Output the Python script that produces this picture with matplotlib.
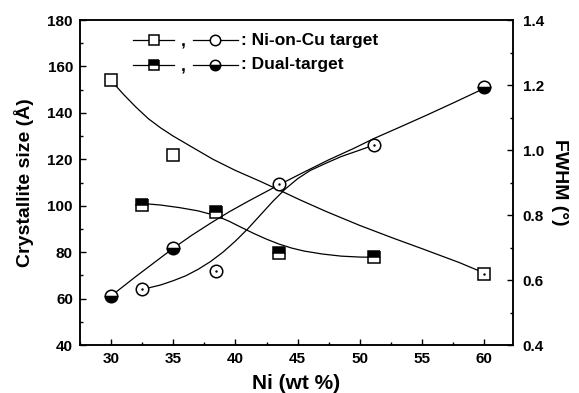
import numpy as np
import matplotlib
matplotlib.use("Agg")
import matplotlib.pyplot as plt
from matplotlib.ticker import MultipleLocator

plt.rcParams['font.family'] = ['Liberation Sans', 'DejaVu Sans']
plt.rcParams['font.weight'] = 'bold'

# measured points
sq_open_x = [30, 35, 60]
sq_open_y = [154, 122, 70.6]
sq_dual_x = [32.5, 38.4, 43.5, 51.1]
sq_dual_y = [100.5, 97.5, 79.5, 77.8]
ci_open_x = [32.5, 38.4, 43.5, 51.1]
ci_open_y = [0.571, 0.629, 0.895, 1.015]
ci_dual_x = [30, 35, 60]
ci_dual_y = [0.551, 0.698, 1.195]

# fitted curves
fitA_x = [30, 31, 32, 33, 34, 35, 36.5, 38.2, 40, 42, 43.5, 45.2, 47.3, 50, 52.7, 55, 58, 60]
fitA_y = [154, 148, 142.5, 137.5, 133.5, 130, 125.3, 120, 115.2, 110.5, 106.8, 102.5,
          97.5, 91.5, 86, 81.5, 75.5, 71]
fitB_x = [32.5, 34, 35, 36, 37, 38, 39, 40, 41, 42, 43, 44, 45, 46, 47.3, 48.5, 50, 51.1]
fitB_y = [0.571, 0.585, 0.598, 0.613, 0.633, 0.657, 0.686, 0.72, 0.758, 0.80, 0.842,
          0.88, 0.912, 0.937, 0.96, 0.98, 1.0, 1.015]
fitC_x = [30, 31, 32, 33, 34, 35, 36.5, 38, 39.5, 41, 43.5, 45.5, 47.5, 49.5, 51.1, 53,
          55.4, 57.5, 60]
fitC_y = [0.551, 0.581, 0.611, 0.64, 0.669, 0.698, 0.738, 0.775, 0.81, 0.842, 0.893,
          0.932, 0.97, 1.005, 1.035, 1.067, 1.108, 1.145, 1.19]
fitD_x = [32.5, 34, 35.5, 37, 38.4, 39.5, 40.5, 41.5, 42.5, 43.5, 44.5, 45.5, 47, 48.5,
          50, 51.1]
fitD_y = [101, 100.3, 99.2, 97.8, 95.8, 93.3, 90.6, 88, 85.6, 83.5, 81.8, 80.5, 79.2,
          78.3, 77.9, 77.8]

fig = plt.figure(figsize=(5.79, 3.93), dpi=100)
ax = fig.add_axes([0.138, 0.122, 0.748, 0.827])
ax2 = ax.twinx()

lw = 0.9
ax.plot(fitA_x, fitA_y, color='black', lw=lw)
ax.plot(fitD_x, fitD_y, color='black', lw=lw)
ax2.plot(fitB_x, fitB_y, color='black', lw=lw)
ax2.plot(fitC_x, fitC_y, color='black', lw=lw)

ms = 8
mew = 1.1
ax.plot(sq_open_x, sq_open_y, 's', ms=ms, mfc='white', mec='black', mew=mew, zorder=5)
ax.plot(sq_dual_x, sq_dual_y, 's', ms=ms, mfc='black', mfcalt='white', fillstyle='top',
        mec='black', mew=mew, zorder=5)
ax2.plot(ci_open_x, ci_open_y, 'o', ms=ms + 1, mfc='white', mec='black', mew=mew, zorder=5)
ax2.plot(ci_dual_x, ci_dual_y, 'o', ms=ms + 1, mfc='black', mfcalt='white', fillstyle='bottom',
         mec='black', mew=mew, zorder=5)
ax2.plot(ci_open_x, ci_open_y, '.', ms=1.5, color='black', zorder=6)
ax.plot(sq_open_x[2:], sq_open_y[2:], '.', ms=1.5, color='black', zorder=6)

ax.set_xlim(27.5, 62.3)
ax.set_ylim(40, 180)
ax2.set_ylim(0.4, 1.4)
ax.xaxis.set_major_locator(MultipleLocator(5))
ax.xaxis.set_minor_locator(MultipleLocator(2.5))
ax.yaxis.set_major_locator(MultipleLocator(20))
ax.yaxis.set_minor_locator(MultipleLocator(10))
ax2.yaxis.set_major_locator(MultipleLocator(0.2))
ax2.yaxis.set_minor_locator(MultipleLocator(0.1))
ax2.yaxis.set_major_formatter(plt.FormatStrFormatter('%.1f'))

for a in (ax, ax2):
    a.tick_params(which='major', direction='in', length=4, width=1, labelsize=11, pad=5)
    a.tick_params(which='minor', direction='in', length=2.5, width=1)
    for s in a.spines.values():
        s.set_linewidth(1.1)
ax2.tick_params(axis='y', which='major', pad=7)

ax.set_xlabel('Ni (wt %)', fontsize=15, fontweight='bold', labelpad=6)
ax.set_ylabel('Crystallite size (Å)', fontsize=14, fontweight='bold', labelpad=10)
ax2.set_ylabel('FWHM (°)', fontsize=14, fontweight='bold', rotation=270, labelpad=17)

# legend drawn by hand
tr = ax.transAxes
rows = [(0.938, 'white', 'full', ': Ni-on-Cu target'),
        (0.862, 'black', 'top', ': Dual-target')]
for yy, fc, fs, label in rows:
    ax.plot([0.122, 0.218], [yy, yy], color='black', lw=lw, transform=tr)
    ax.plot([0.170], [yy], 's', ms=7, mfc=fc, mfcalt='white', fillstyle=fs,
            mec='black', mew=mew, transform=tr)
    ax.text(0.232, yy - 0.005, ',', transform=tr, fontsize=12.5, ha='left', va='center')
    ax.plot([0.261, 0.365], [yy, yy], color='black', lw=lw, transform=tr)
    ax.plot([0.313], [yy], 'o', ms=7.5, mfc=fc if fc == 'white' else 'black', mfcalt='white',
            fillstyle='full' if fs == 'full' else 'bottom', mec='black', mew=mew, transform=tr)
    ax.text(0.372, yy, label, transform=tr, fontsize=12.5, ha='left', va='center')

fig.savefig('out.png', dpi=100)
